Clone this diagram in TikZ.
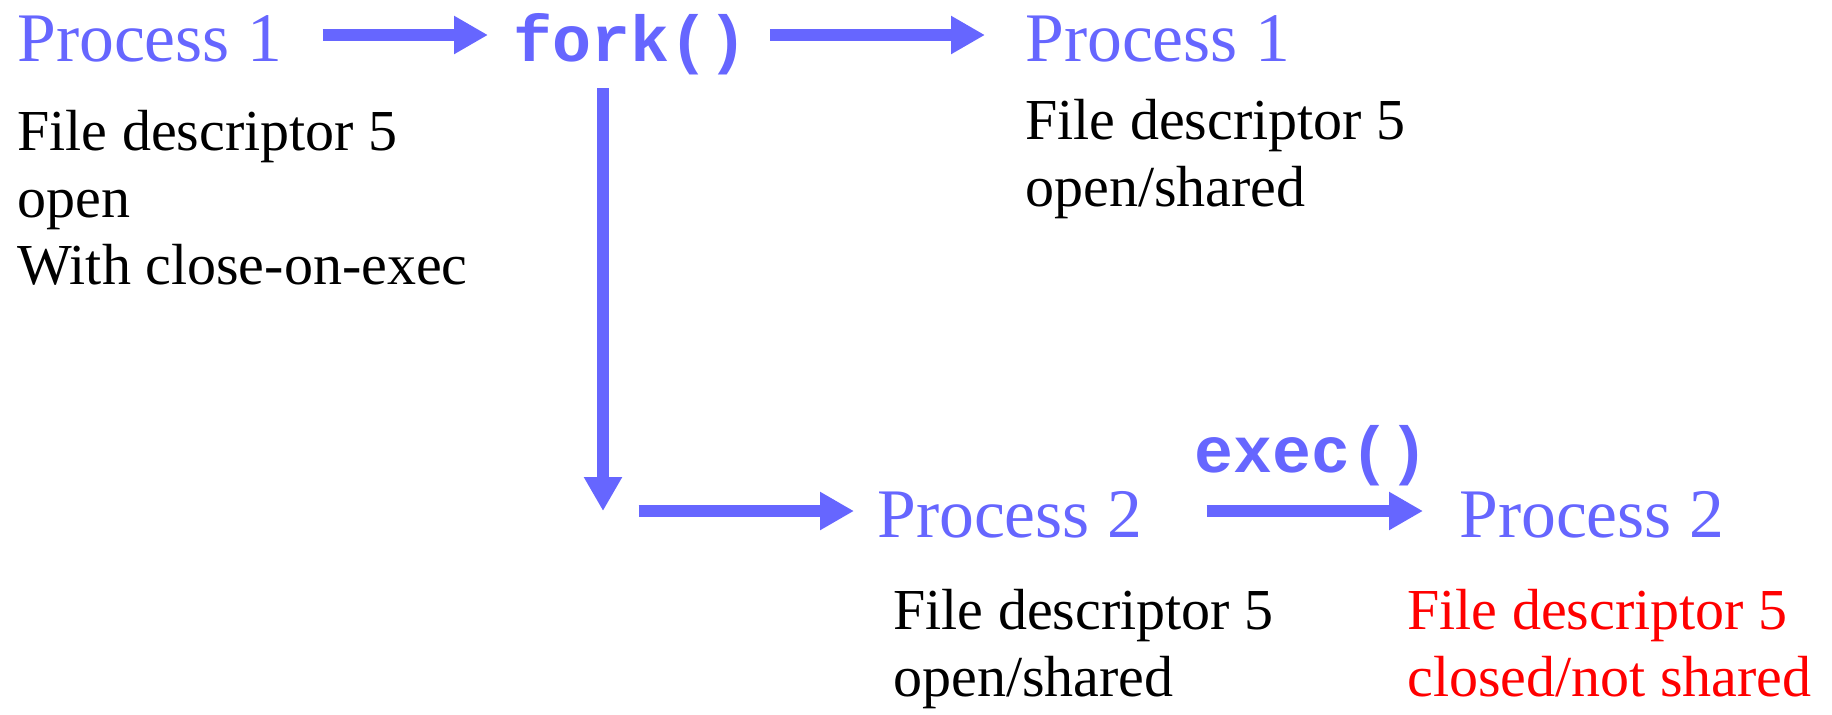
\documentclass[tikz,border=0pt]{standalone}
\usepackage{fontspec}
\setmainfont{Liberation Serif}
\setmonofont{Liberation Mono}
\usepackage{tikz}
\usetikzlibrary{arrows.meta, calc}
\definecolor{procblue}{RGB}{102,102,255}
\tikzset{>={Triangle[length=17pt,width=18pt]}}

\begin{document}
\begin{tikzpicture}[x=0.5pt,y=-0.5pt,inner sep=0pt,
    proc/.style={anchor=base west,text=procblue,text height=28pt,text depth=2pt,
        font=\fontsize{34.8}{40}\selectfont},
    call/.style={anchor=base west,text=procblue,text height=28pt,text depth=2pt,
        font=\fontsize{32.5}{38}\selectfont\ttfamily\bfseries},
    % base of a multi-line node sits on its last line
    desc/.style={anchor=base west,align=left,font=\fontsize{29}{33.5}\selectfont},
    flow/.style={->,draw=procblue,line width=6pt}]
    \useasboundingbox (0,0) rectangle (1832,714);

    % parent before and after fork()
    \node[proc] (p1) at (17,61) {Process 1};
    \node[call] (fork) at (513,61) {fork()};
    \node[proc] (p1b) at (1025,61) {Process 1};
    \node[desc] (fd1) at (17,284) {File descriptor 5\\open\\With close-on-exec};
    \node[desc] (fd1b) at (1025,206) {File descriptor 5\\open/shared};

    % child before and after exec()
    \node[proc] (p2) at (877,537) {Process 2};
    \node[proc] (p2b) at (1459,537) {Process 2};
    \node[desc] (fd2) at (893,696) {File descriptor 5\\open/shared};
    \node[desc,text=red] (fd2b) at (1407,696) {File descriptor 5\\closed/not shared};

    \coordinate (turn) at ([xshift=45pt]fork.south west |- p2.west);

    \draw[flow,shorten <=20pt,shorten >=12.5pt] (p1.east) -- (fork.west);
    \draw[flow,shorten <=11pt,shorten >=20pt] (fork.east) -- (p1b.west);
    \draw[flow,shorten <=11.5pt] ([xshift=45pt]fork.south west) -- (turn);
    \draw[flow,shorten <=17.75pt,shorten >=11.5pt] (turn) -- (p2.west);
    \draw[flow,shorten <=32pt,shorten >=18pt] (p2.east) -- (p2b.west)
        node[call,midway,anchor=base,xshift=5.5pt,yshift=19.5pt] (exec) {exec()};
\end{tikzpicture}
\end{document}
